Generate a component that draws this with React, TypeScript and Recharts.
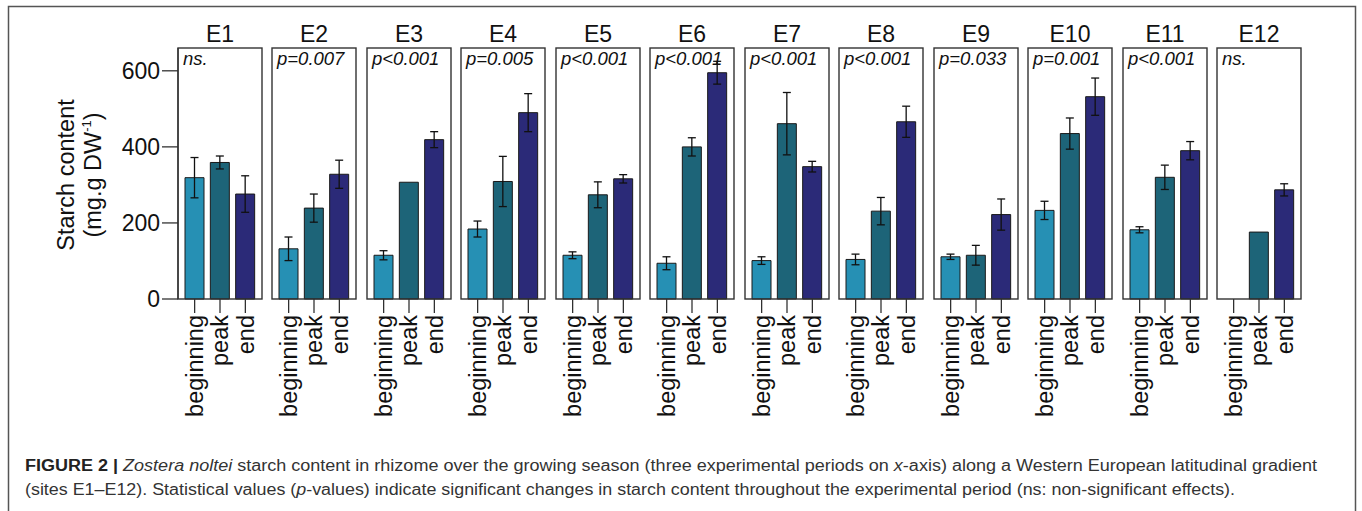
import React from 'react'
import { BarChart, Bar, XAxis, YAxis, ErrorBar, Cell } from 'recharts'

// sites along the gradient, each one a small panel
const sites = ['E1', 'E2', 'E3', 'E4', 'E5', 'E6', 'E7', 'E8', 'E9', 'E10', 'E11', 'E12']
const periods = ['beginning', 'peak', 'end']
const pLabels = ['ns.', 'p=0.007', 'p<0.001', 'p=0.005', 'p<0.001', 'p<0.001', 'p<0.001', 'p<0.001', 'p=0.033', 'p=0.001', 'p<0.001', 'ns.']

// starch content (mg.g DW-1), mean and error per period
const beginningMean = [319, 132, 115, 184, 115, 94, 101, 104, 111, 233, 182, null]
const beginningErr = [53, 31, 12, 21, 9, 17, 10, 14, 7, 24, 8, null]
const peakMean = [359, 239, 307, 309, 274, 400, 461, 231, 115, 435, 320, 176]
const peakErr = [17, 37, null, 66, 34, 24, 82, 36, 26, 41, 32, null]
const endMean = [276, 328, 419, 490, 316, 595, 348, 466, 222, 532, 390, 287]
const endErr = [48, 37, 21, 50, 11, 30, 14, 41, 41, 49, 24, 16]

const yTicks = [0, 200, 400, 600]

const periodColors = ['#2690b4', '#1d6478', '#2b2a78']
const FONT = '"Liberation Sans", Arial, Helvetica, sans-serif'

const PANEL_X0 = 178
const PANEL_STEP = 94.45
const PANEL_W = 84
const PANEL_TOP = 48
const PANEL_H = 251
const M = 4
const Y_AXIS_W = 60
const X_AXIS_H = 126

const panelLeft = (i: number) => Math.round(PANEL_X0 + i * PANEL_STEP)

function PeriodTick({ x, y, payload }: any) {
  return (
    <g transform={`translate(${x},${y})`}>
      <text
        transform="rotate(-90)"
        textAnchor="end"
        dy="0.35em"
        fontSize={23.5}
        fontFamily={FONT}
        fill="#111"
      >
        {payload.value}
      </text>
    </g>
  )
}

function SitePanel({ index }: { index: number }) {
  const data = periods.map((period, j) => ({
    period,
    mean: [beginningMean, peakMean, endMean][j][index],
    err: [beginningErr, peakErr, endErr][j][index],
  }))
  const first = index === 0
  const width = PANEL_W + 2 * M + (first ? Y_AXIS_W : 0)
  const height = PANEL_H + 2 * M + X_AXIS_H
  const left = panelLeft(index) - M - (first ? Y_AXIS_W : 0)

  return (
    <div style={{ position: 'absolute', left, top: PANEL_TOP - M }}>
      <BarChart width={width} height={height} data={data} margin={{ top: M, right: M, bottom: M, left: M }}>
        <XAxis
          dataKey="period"
          height={X_AXIS_H}
          padding={{ left: 4, right: 4 }}
          axisLine={false}
          tickLine={{ stroke: '#222', strokeWidth: 1.2 }}
          tickSize={14}
          tickMargin={2}
          interval={0}
          tick={<PeriodTick />}
        />
        <YAxis
          type="number"
          domain={[0, 660]}
          ticks={yTicks}
          hide={!first}
          width={Y_AXIS_W}
          axisLine={{ stroke: '#222', strokeWidth: 1.2 }}
          tickLine={{ stroke: '#222', strokeWidth: 1.2 }}
          tickSize={16}
          tickMargin={2}
          tick={{ fontSize: 23, fill: '#111', fontFamily: FONT }}
        />
        <Bar dataKey="mean" barSize={19} stroke="#1a1a1a" strokeWidth={1} isAnimationActive={false}>
          {data.map((d, j) => (
            <Cell key={d.period} fill={periodColors[j]} />
          ))}
          <ErrorBar dataKey="err" direction="y" width={4} stroke="#111" strokeWidth={1.3} />
        </Bar>
      </BarChart>
    </div>
  )
}

export default function App() {
  return (
    <div style={{ position: 'absolute', left: 0, top: 0, width: 1362, height: 511, background: '#fff', overflow: 'hidden' }}>
      {sites.map((s, i) => (
        <SitePanel key={s} index={i} />
      ))}
      <svg width={1362} height={511} style={{ position: 'absolute', left: 0, top: 0, pointerEvents: 'none' }} fontFamily={FONT}>
        <path d="M8.5,520 V6.5 H1355.5 V520" fill="none" stroke="#555" strokeWidth={1.5} />
        {sites.map((s, i) => (
          <g key={s}>
            <rect x={panelLeft(i)} y={PANEL_TOP} width={PANEL_W} height={PANEL_H} fill="none" stroke="#333" strokeWidth={1.4} />
            <text x={panelLeft(i) + PANEL_W / 2} y={42} textAnchor="middle" fontSize={23} fill="#111">
              {s}
            </text>
            <text x={panelLeft(i) + 5} y={65} fontSize={18.5} fontStyle="italic" fill="#111">
              {pLabels[i]}
            </text>
          </g>
        ))}
        <text transform="translate(74,175) rotate(-90)" textAnchor="middle" fontSize={23.5} fill="#111">
          Starch content
        </text>
        <text transform="translate(101,175) rotate(-90)" textAnchor="middle" fontSize={23.5} fill="#111">
          (mg.g DW<tspan fontSize={13} dy={-10}>-1</tspan>
          <tspan dy={10}>)</tspan>
        </text>
        <text x={25} y={471} fontSize={16} fill="#333" textLength={1292} lengthAdjust="spacingAndGlyphs">
          <tspan fontWeight="bold" fill="#222">FIGURE 2 | </tspan>
          <tspan fontStyle="italic">Zostera noltei</tspan> starch content in rhizome over the growing season (three
          experimental periods on <tspan fontStyle="italic">x</tspan>-axis) along a Western European latitudinal
          gradient
        </text>
        <text x={25} y={495} fontSize={16} fill="#333" textLength={1210} lengthAdjust="spacingAndGlyphs">
          (sites E1–E12). Statistical values (<tspan fontStyle="italic">p</tspan>-values) indicate significant changes
          in starch content throughout the experimental period (ns: non-significant effects).
        </text>
      </svg>
    </div>
  )
}
